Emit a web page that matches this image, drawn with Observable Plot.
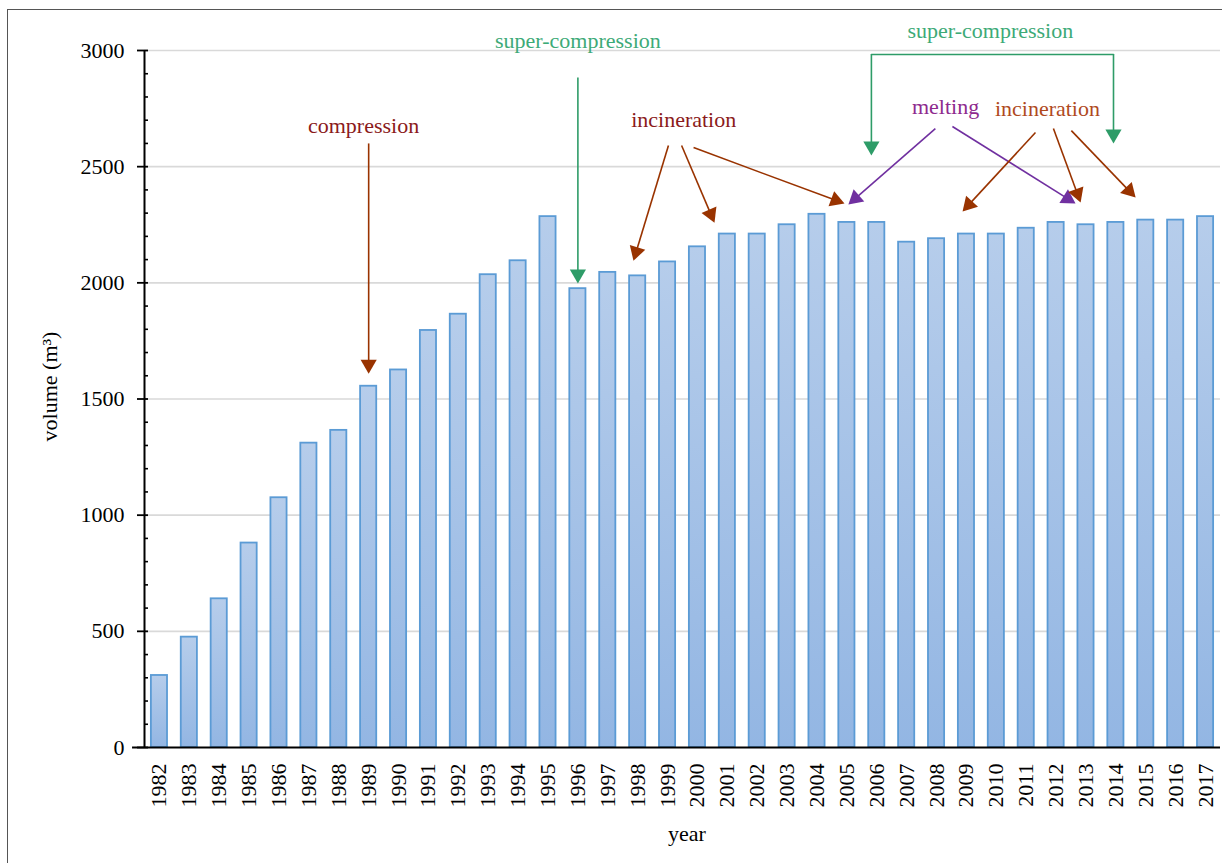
<!DOCTYPE html>
<html><head><meta charset="utf-8">
<script src="https://cdn.jsdelivr.net/npm/d3@7"></script>
<script src="https://cdn.jsdelivr.net/npm/@observablehq/plot@0.6"></script>
<style>
html,body{margin:0;padding:0;background:#fff;overflow:hidden;}
#chart{position:absolute;left:0;top:0;}
#chart svg, #chart svg text{font-family:'Liberation Serif', serif !important;}
#frame{position:absolute;left:7px;top:9px;width:1400px;height:1000px;border:1.5px solid #555;box-sizing:border-box;pointer-events:none;}
</style></head><body>
<div id="chart"></div><div id="frame"></div>
<script>
const years = [1982,1983,1984,1985,1986,1987,1988,1989,1990,1991,1992,1993,1994,1995,1996,1997,1998,1999,2000,2001,2002,2003,2004,2005,2006,2007,2008,2009,2010,2011,2012,2013,2014,2015,2016,2017];
const volumes = [310,475,640,880,1075,1310,1365,1555,1625,1795,1865,2035,2095,2285,1975,2045,2030,2090,2155,2210,2210,2250,2295,2260,2260,2175,2190,2210,2210,2235,2260,2250,2260,2270,2270,2285];
const yMajorTicks = [0,500,1000,1500,2000,2500,3000];
const yMinorTicks = [100,200,300,400,600,700,800,900,1100,1200,1300,1400,1600,1700,1800,1900,2100,2200,2300,2400,2600,2700,2800,2900];

const BROWN = "#993300", GREEN = "#2E9C68", PURPLE = "#7030A0";
const labels = [
  {text:"compression", x:1988.83, y:2677, color:"#8B1A1A"},
  {text:"super-compression", x:1996.0, y:3043, color:"#3DAA77"},
  {text:"incineration", x:1999.54, y:2703, color:"#8B1A1A"},
  {text:"melting", x:2008.3, y:2759, color:"#8E2A8E"},
  {text:"incineration", x:2011.71, y:2750, color:"#B04A1E"},
  {text:"super-compression", x:2009.8, y:3086, color:"#3DAA77"}
];
const arrows = [
  {x1:1989.0, y1:2600, x2:1989.0, y2:1609, color:BROWN},
  {x1:1996.0, y1:2884, x2:1996.0, y2:1997, color:GREEN},
  {x1:1999.03, y1:2591, x2:1997.86, y2:2095, color:BROWN},
  {x1:1999.47, y1:2591, x2:2000.57, y2:2259, color:BROWN},
  {x1:1999.87, y1:2582, x2:2004.92, y2:2341, color:BROWN},
  {x1:2007.96, y1:2664, x2:2005.05, y2:2337, color:PURPLE},
  {x1:2008.53, y1:2673, x2:2012.65, y2:2341, color:PURPLE},
  {x1:2011.31, y1:2647, x2:2008.87, y2:2307, color:BROWN},
  {x1:2011.91, y1:2664, x2:2012.82, y2:2346, color:BROWN},
  {x1:2012.51, y1:2655, x2:2014.66, y2:2367, color:BROWN},
  {x1:2005.82, y1:2983, x2:2005.82, y2:2548, color:GREEN},
  {x1:2013.92, y1:2983, x2:2013.92, y2:2600, color:GREEN}
];
const bracket = [{x:2005.82,y:2983},{x:2013.92,y:2983}];

const data = years.map((year, i) => ({year, value: volumes[i]}));

const W = 1222, H = 863, mL = 144, mR = 2, mT = 50, mB = 116;
const xDomain = [1981.5, 2017.5], yDomain = [0, 3000];
const xs = Plot.scale({x: {domain: xDomain, range: [mL, W - mR]}});
const ys = Plot.scale({y: {domain: yDomain, range: [H - mB, mT]}});
const headR = 6;
const tipOff = 2 * Math.sqrt(Math.PI * headR * headR / (3 * Math.sqrt(3)));
const heads = arrows.map(a => {
  const px1 = xs.apply(a.x1), py1 = ys.apply(a.y1), px2 = xs.apply(a.x2), py2 = ys.apply(a.y2);
  const L = Math.hypot(px2 - px1, py2 - py1);
  const ux = (px2 - px1) / L, uy = (py2 - py1) / L;
  return {
    x1: a.x1, y1: a.y1,
    x: xs.invert(px2 - ux * tipOff), y: ys.invert(py2 - uy * tipOff),
    rotate: Math.atan2(ux, -uy) * 180 / Math.PI,
    color: a.color
  };
});

const defs = () => {
  const d = d3.create("svg:defs");
  const g = d.append("linearGradient").attr("id", "barGrad").attr("x1", 0).attr("y1", 0).attr("x2", 0).attr("y2", 1);
  g.append("stop").attr("offset", "0%").attr("stop-color", "#b6cdeb");
  g.append("stop").attr("offset", "100%").attr("stop-color", "#93b6e3");
  return d.node();
};

const FONT = "'Liberation Serif', serif";
const chart = Plot.plot({
  width: W, height: H, marginLeft: mL, marginRight: mR, marginTop: mT, marginBottom: mB,
  x: {domain: xDomain, axis: null},
  y: {domain: yDomain, axis: null},
  color: {type: "identity"},
  style: {fontFamily: FONT, fontSize: "22px", color: "#000", background: "transparent", overflow: "visible"},
  marks: [
    defs,
    Plot.gridY({ticks: yMajorTicks.slice(1), stroke: "#d9d9d9", strokeOpacity: 1, strokeWidth: 1.6}),
    Plot.rectY(data, {x1: d => d.year - 0.27, x2: d => d.year + 0.27, y: "value", fill: "url(#barGrad)", stroke: "#5b9bd5", strokeWidth: 1.8}),
    Plot.ruleY([0], {x1: 1981.1, x2: 2017.5, stroke: "#000", strokeWidth: 2}),
    Plot.ruleX([1981.5], {y1: 0, y2: 3000, stroke: "#000", strokeWidth: 2}),
    Plot.axisY({ticks: yMajorTicks, tickSize: 11, dx: 4, tickPadding: 13, tickFormat: d => String(d), fontSize: 22, fontFamily: FONT, strokeWidth: 1.8, label: null}),
    Plot.axisY({ticks: yMinorTicks, tickSize: 4, dx: 4, tickFormat: () => "", strokeWidth: 1.6, label: null}),
    Plot.axisX({ticks: years, tickFormat: d => String(d), tickRotate: -90, tickSize: 0, tickPadding: 16, fontSize: 22, fontFamily: FONT, label: null}),
    Plot.text(["year"], {frameAnchor: "bottom", dx: 4.5, dy: 86, fontSize: 22, fontFamily: FONT, fill: "#000", lineAnchor: "middle"}),
    Plot.text(["volume (m³)"], {frameAnchor: "left", dx: -95, dy: -12.5, rotate: -90, fontSize: 22, fontFamily: FONT, fill: "#000", lineAnchor: "middle", textAnchor: "middle"}),
    Plot.line(bracket, {x: "x", y: "y", stroke: GREEN, strokeWidth: 1.6}),
    Plot.link(heads, {x1: "x1", y1: "y1", x2: "x", y2: "y", stroke: "color", strokeWidth: 1.6}),
    Plot.dot(heads, {x: "x", y: "y", r: headR, symbol: "triangle", rotate: "rotate", fill: "color", stroke: "none"}),
    Plot.text(labels, {x: "x", y: "y", text: "text", fill: "color", fontSize: 22, fontFamily: FONT, textAnchor: "middle", lineAnchor: "middle"})
  ]
});
document.getElementById("chart").append(chart);
</script></body></html>
